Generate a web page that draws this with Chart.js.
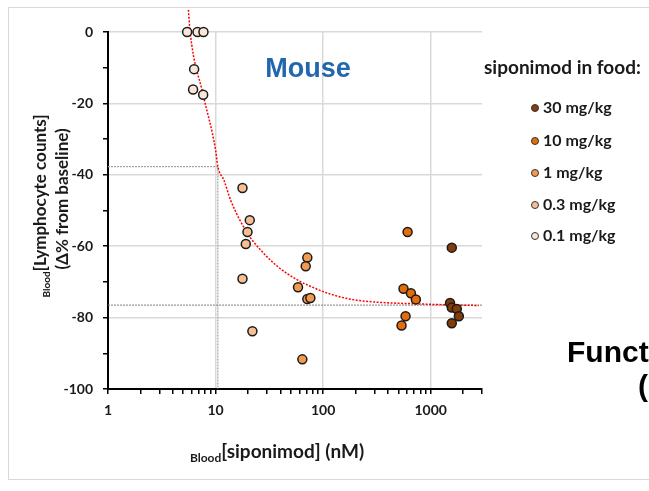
<!DOCTYPE html>
<html>
<head>
<meta charset="utf-8">
<script src="https://cdn.jsdelivr.net/npm/chart.js@4/dist/chart.umd.min.js"></script>
<style>
  html, body { margin: 0; padding: 0; background: #fff; }
</style>
</head>
<body>
<canvas id="chart" width="649" height="491"></canvas>
<script>
// valores: concentracion en sangre (nM) y cambio de linfocitos (%)
const dose30X = [1571, 1514, 1571, 1750, 1828, 1571];
const dose30Y = [-60.4, -75.9, -77.2, -77.6, -79.6, -81.6];
const dose10X = [610, 559, 655, 728, 584, 536];
const dose10Y = [-56.0, -71.9, -73.2, -74.9, -79.6, -82.2];
const dose1X = [71.3, 68.9, 58.4, 71.3, 76.1, 64.1];
const dose1Y = [-63.2, -65.6, -71.5, -74.8, -74.5, -91.7];
const dose03X = [17.8, 20.8, 19.8, 19.1, 17.8, 22.0];
const dose03Y = [-43.7, -52.7, -56.0, -59.4, -69.1, -83.8];
const dose01X = [5.44, 6.79, 7.72, 6.32, 6.18, 7.67];
const dose01Y = [0, 0, 0, -10.4, -16.1, -17.6];

// curva de ajuste (puntos leidos sobre la linea roja)
const fitX = [5.59, 5.80, 7.67, 10.0, 10.5, 11.96, 13.8, 19.8, 26.3, 37.8, 58.0, 77.2, 111, 183, 325, 664, 1361, 2790];
const fitY = [6.2, 0, -17.6, -33.0, -37.7, -41.5, -47.1, -56.4, -61.1, -65.7, -69.5, -71.3, -73.2, -74.9, -75.7, -76.1, -76.4, -76.6];

// lineas de referencia
const emax = -76.5;
const ec50 = 10.5;
const halfEffect = -37.7;

const doseLabels = ['30 mg/kg', '10 mg/kg', '1 mg/kg', '0.3 mg/kg', '0.1 mg/kg'];
const doseColors = ['#843C0C', '#E46C0A', '#F39A50', '#F6BE93', '#FBE5D6'];

const xTicks = [1,2,3,4,5,6,7,8,9,10,20,30,40,50,60,70,80,90,100,200,300,400,500,600,700,800,900,1000,2000,3000];
const xMajor = [1, 10, 100, 1000];

const zip = (xs, ys) => xs.map((x, i) => ({ x: x, y: ys[i] }));

const pointSets = [
    [dose30X, dose30Y], [dose10X, dose10Y], [dose1X, dose1Y], [dose03X, dose03Y], [dose01X, dose01Y]
].map((d, i) => ({
    type: 'scatter',
    label: doseLabels[i],
    data: zip(d[0], d[1]),
    backgroundColor: doseColors[i],
    borderColor: '#1a1a1a',
    borderWidth: 1.5,
    pointRadius: 4.5,
    clip: false,
    order: 1
}));

const lineSets = [
    {
        type: 'line', label: 'fit', data: zip(fitX, fitY),
        borderColor: '#FF0000', borderWidth: 1.5, borderDash: [2, 1.5],
        pointRadius: 0, cubicInterpolationMode: 'monotone', clip: false, order: 5
    },
    {
        type: 'line', label: 'emax', data: [{ x: 1, y: emax }, { x: 3000, y: emax }],
        borderColor: '#7f7f7f', borderWidth: 1, borderDash: [2, 1], pointRadius: 0, order: 6
    },
    {
        type: 'line', label: 'dropH', data: [{ x: 1, y: halfEffect }, { x: ec50, y: halfEffect }],
        borderColor: '#a6a6a6', borderWidth: 1.2, borderDash: [2, 1], pointRadius: 0, order: 6
    },
    {
        type: 'line', label: 'dropV', data: [{ x: ec50, y: halfEffect }, { x: ec50, y: -100 }],
        borderColor: '#a6a6a6', borderWidth: 1.2, borderDash: [2, 1], pointRadius: 0, order: 6
    }
];

const tickFont = { family: 'Lato', weight: 'bold', size: 14 };

// textos con subindices, leyenda y marco
const extrasPlugin = {
    id: 'extras',
    afterDraw(chart) {
        const ctx = chart.ctx;
        ctx.save();

        ctx.strokeStyle = '#d9d9d9';
        ctx.lineWidth = 1;
        ctx.strokeRect(8.5, 7.5, 700, 472);

        ctx.fillStyle = '#2167AE';
        ctx.font = 'bold 27px "Liberation Sans"';
        ctx.textAlign = 'center';
        ctx.textBaseline = 'middle';
        ctx.fillText('Mouse', 308, 70);

        ctx.fillStyle = '#000';
        ctx.font = 'bold 30px "Liberation Sans"';
        ctx.textAlign = 'left';
        ctx.fillText('Function', 567, 354);
        ctx.fillText('(', 638, 388);

        // leyenda
        ctx.fillStyle = '#1a1a1a';
        ctx.font = 'bold 19px Lato';
        ctx.fillText('siponimod in food:', 484, 68);
        ctx.font = 'bold 16px Lato';
        const legY = [108, 141, 173, 205, 236];
        doseLabels.forEach((lab, i) => {
            ctx.beginPath();
            ctx.arc(535, legY[i], 3.5, 0, Math.PI * 2);
            ctx.fillStyle = doseColors[i];
            ctx.fill();
            ctx.lineWidth = 1;
            ctx.strokeStyle = '#333';
            ctx.stroke();
            ctx.fillStyle = '#1a1a1a';
            ctx.fillText(lab, 543, legY[i]);
        });

        const drawSub = (sub, main, cx, cy, subSize, mainSize) => {
            ctx.font = 'bold ' + subSize + 'px Lato';
            const w1 = ctx.measureText(sub).width;
            ctx.font = 'bold ' + mainSize + 'px Lato';
            const w2 = ctx.measureText(main).width;
            let x0 = cx - (w1 + w2) / 2;
            ctx.textAlign = 'left';
            ctx.textBaseline = 'alphabetic';
            ctx.font = 'bold ' + subSize + 'px Lato';
            ctx.fillText(sub, x0, cy + 10);
            ctx.font = 'bold ' + mainSize + 'px Lato';
            ctx.fillText(main, x0 + w1, cy + 6);
        };
        // titulo eje x
        ctx.fillStyle = '#1a1a1a';
        drawSub('Blood', '[siponimod] (nM)', 277, 452, 12, 19);

        // titulo eje y
        ctx.save();
        ctx.translate(40, 206);
        ctx.rotate(-Math.PI / 2);
        drawSub('Blood', '[Lymphocyte counts]', 0, 0, 10, 17);
        ctx.restore();
        ctx.save();
        ctx.translate(63, 199);
        ctx.rotate(-Math.PI / 2);
        ctx.font = 'bold 17px Lato';
        ctx.textAlign = 'center';
        ctx.textBaseline = 'middle';
        ctx.fillText('(\u0394% from baseline)', 0, 0);
        ctx.restore();

        ctx.restore();
    }
};

new Chart(document.getElementById('chart'), {
    data: { datasets: [...pointSets, ...lineSets] },
    options: {
        responsive: false,
        animation: false,
        devicePixelRatio: 1,
        layout: { padding: { left: 0, right: 167, top: 32, bottom: 0 } },
        plugins: { legend: { display: false }, tooltip: { enabled: false } },
        scales: {
            x: {
                type: 'logarithmic',
                min: 1,
                max: 3000,
                afterBuildTicks: (s) => { s.ticks = xTicks.map(v => ({ value: v })); },
                afterFit: (s) => { s.height = 102; },
                ticks: {
                    autoSkip: false,
                    maxRotation: 0,
                    padding: 8,
                    color: '#1a1a1a',
                    font: tickFont,
                    callback: (v) => xMajor.includes(v) ? String(v) : ''
                },
                grid: {
                    color: (c) => (c.tick && xMajor.includes(c.tick.value) && c.tick.value > 1) ? '#d9d9d9' : 'rgba(0,0,0,0)',
                    lineWidth: 1.5,
                    tickColor: '#000',
                    tickLength: 5,
                    tickWidth: 1.5
                },
                border: { color: '#000', width: 2 }
            },
            y: {
                type: 'linear',
                min: -100,
                max: 0,
                afterFit: (s) => { s.width = 108; },
                ticks: {
                    stepSize: 10,
                    padding: 10,
                    color: '#1a1a1a',
                    font: tickFont,
                    callback: (v) => v % 20 === 0 ? String(v) : ''
                },
                grid: {
                    color: (c) => (c.tick && c.tick.value % 20 === 0) ? '#d9d9d9' : 'rgba(0,0,0,0)',
                    lineWidth: 1.5,
                    tickColor: '#000',
                    tickLength: 5,
                    tickWidth: 1.5
                },
                border: { color: '#000', width: 2 }
            }
        }
    },
    plugins: [extrasPlugin]
});
</script>
</body>
</html>
